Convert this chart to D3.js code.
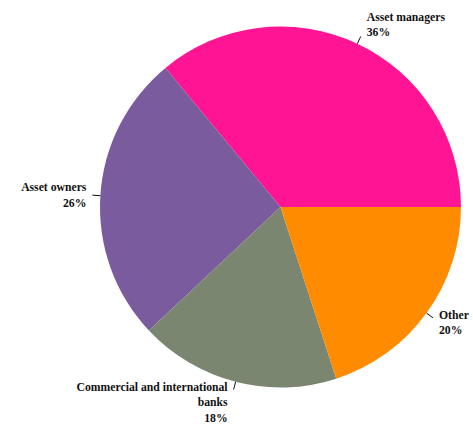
<!DOCTYPE html>
<html>
<head>
<meta charset="utf-8">
<script src="https://cdn.jsdelivr.net/npm/d3@7"></script>
<style>
  html, body { margin: 0; padding: 0; background: #fff; }
  svg { display: block; }
  text { font-family: "Liberation Serif", "Times New Roman", serif; font-weight: bold; font-size: 11.7px; fill: #111; }
</style>
</head>
<body>
<svg id="chart" width="473" height="425"></svg>
<script>
// Share of holdings by investor type (percent)
const categories = ["Asset managers", "Asset owners", "Commercial and international banks", "Other"];
const shares = [36, 26, 18, 20];
const colors = ["#FF1493", "#7A5C9E", "#7A866F", "#FF8C00"];

const width = 473, height = 425;
const cx = 280.5, cy = 207, radius = 180.5;
const tickLen = 8, textGap = 6, lineHeight = 15.5, wrapWidth = 160;

const svg = d3.select("#chart");
const g = svg.append("g").attr("transform", `translate(${cx},${cy})`);

// Slices run counter-clockwise, starting at three o'clock
const pie = d3.pie().sort(null)
  .startAngle(Math.PI / 2)
  .endAngle(Math.PI / 2 - 2 * Math.PI)
  .value(d => d.value);

const data = categories.map((c, i) => ({ name: c, value: shares[i], color: colors[i] }));
const arcs = pie(data);

const arc = d3.arc().innerRadius(0).outerRadius(radius);

g.selectAll("path.slice")
  .data(arcs)
  .join("path")
  .attr("class", "slice")
  .attr("d", arc)
  .attr("fill", d => d.data.color);

// Point on a circle of radius rr at the middle of a slice
function polar(a, rr) {
  return [rr * Math.sin(a), -rr * Math.cos(a)];
}

// Break a label into lines no wider than wrapWidth
const measurer = svg.append("text").attr("visibility", "hidden");
function wrap(str) {
  const words = str.split(" ");
  const lines = [];
  let cur = "";
  for (const w of words) {
    const trial = cur ? cur + " " + w : w;
    measurer.text(trial);
    if (cur && measurer.node().getComputedTextLength() > wrapWidth) {
      lines.push(cur);
      cur = w;
    } else {
      cur = trial;
    }
  }
  if (cur) lines.push(cur);
  return lines;
}

arcs.forEach(d => {
  const mid = (d.startAngle + d.endAngle) / 2;
  const p0 = polar(mid, radius);
  const p1 = polar(mid, radius + tickLen);

  g.append("line")
    .attr("x1", p0[0]).attr("y1", p0[1])
    .attr("x2", p1[0]).attr("y2", p1[1])
    .attr("stroke", "#111")
    .attr("stroke-width", 1);

  const lines = wrap(d.data.name).concat([d.data.value + "%"]);
  const s = Math.sin(mid), c = Math.cos(mid);
  const right = s >= 0;
  const x = p1[0] + (right ? textGap : -textGap);
  const n = lines.length;
  let y0;
  if (c > 0.35) {
    y0 = p1[1] - (n - 1) * lineHeight;          // label block sits above the tick
  } else if (c < -0.35) {
    y0 = p1[1] + 1;                              // label block hangs below the tick
  } else {
    y0 = p1[1] - (n - 1) * lineHeight / 2 + 4;   // centred on the tick
  }

  const t = g.append("text")
    .attr("text-anchor", right ? "start" : "end");
  lines.forEach((ln, i) => {
    t.append("tspan")
      .attr("x", x)
      .attr("y", y0 + i * lineHeight)
      .text(ln);
  });
});

measurer.remove();
</script>
</body>
</html>
